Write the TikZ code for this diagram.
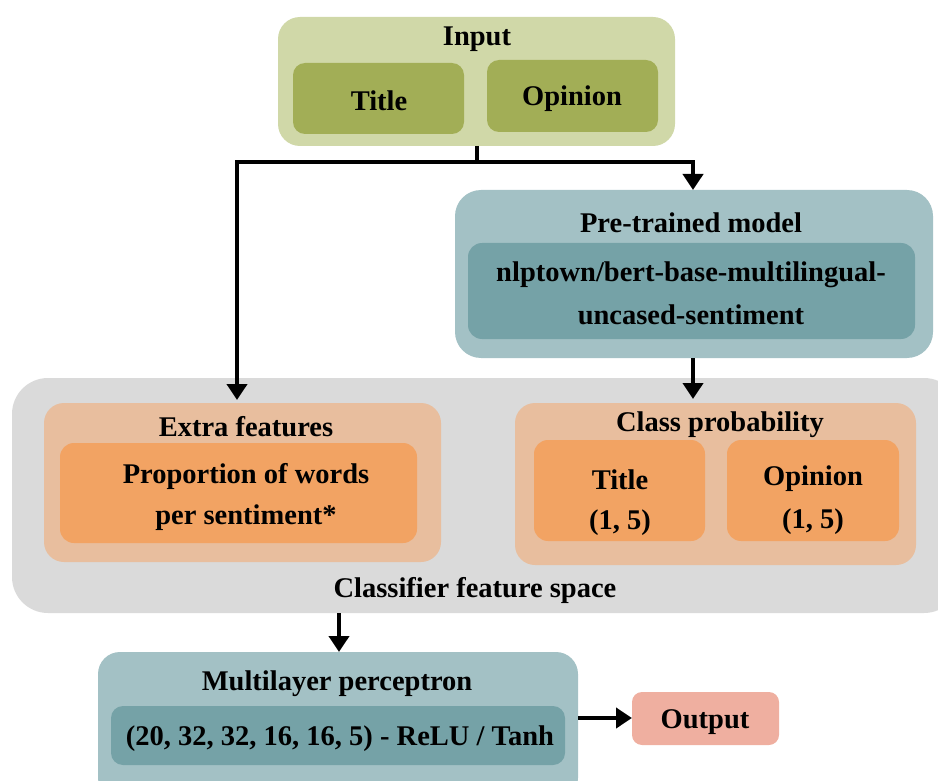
\documentclass[tikz,border=0pt]{standalone}
\usepackage{fontspec}
\setmainfont{Liberation Serif}
\usetikzlibrary{arrows.meta}
\definecolor{inoute}{RGB}{208,216,168}
\definecolor{ininn}{RGB}{162,174,86}
\definecolor{tealout}{RGB}{163,193,197}
\definecolor{tealin}{RGB}{117,162,167}
\definecolor{grayspace}{RGB}{218,218,218}
\definecolor{peachout}{RGB}{232,190,158}
\definecolor{peachin}{RGB}{242,163,99}
\definecolor{outcol}{RGB}{239,175,160}
\tikzset{
  box/.style={rounded corners=#1, draw=none},
  lbl/.style={font=\fontsize{28.5}{34}\selectfont\bfseries, inner sep=0pt, align=center},
  conn/.style={line width=4.5pt, -{Triangle[width=20pt,length=16pt]}},
  plain/.style={line width=4.5pt}
}
\begin{document}
\begin{tikzpicture}[x=1pt,y=-1pt]
\useasboundingbox (0,0) rectangle (938,781);
% Input
\fill[inoute, box=22pt] (278,17) rectangle (675,146);
\node[lbl] (inlbl) at (477,39) {Input};
\fill[ininn, box=12pt] (293,63) rectangle (464,134);
\node[lbl] (intitle) at (379,101) {Title};
\fill[ininn, box=12pt] (487,60) rectangle (658,132);
\node[lbl] (inop) at (572,99) {Opinion};
\coordinate (inbot) at (477,146);
% Pretrained
\fill[tealout, box=26pt] (455,190) rectangle (933,358);
\node[lbl] (ptlbl) at (691,223) {Pre-trained model};
\fill[tealin, box=14pt] (468,243) rectangle (915,339);
\node[lbl] (ptl1) at (691,275) {nlptown/bert-base-multilingual-};
\node[lbl] (ptl2) at (691,315) {uncased-sentiment};
% Classifier space
\fill[grayspace, box=36pt] (12,378) rectangle (960,613);
\node[lbl] (cfs) at (475,590) {Classifier feature space};
% Extra features
\fill[peachout, box=20pt] (44,403) rectangle (441,562);
\node[lbl] (eflbl) at (246,427) {Extra features};
\fill[peachin, box=14pt] (60,443) rectangle (417,543);
\node[lbl] (ef1) at (246,476) {Proportion of words};
\node[lbl] (ef2) at (246,518) {per sentiment*};
% Class probability
\fill[peachout, box=20pt] (515,403) rectangle (916,565);
\node[lbl] (cplbl) at (720,425) {Class probability};
\fill[peachin, box=14pt] (534,440) rectangle (705,541);
\node[lbl] (cpt1) at (620,480) {Title};
\node[lbl] (cpt2) at (620,523) {(1, 5)};
\fill[peachin, box=14pt] (727,440) rectangle (899,541);
\node[lbl] (cpo1) at (813,479) {Opinion};
\node[lbl] (cpo2) at (813,522) {(1, 5)};
% MLP
\fill[tealout, box=22pt] (98,652) rectangle (578,800);
\node[lbl] (mlplbl) at (337,684) {Multilayer perceptron};
\fill[tealin, box=12pt] (111,706) rectangle (565,765);
\node[lbl] (mlpin) at (340,739) {(20, 32, 32, 16, 16, 5) - ReLU / Tanh};
% Output
\fill[outcol, box=10pt] (632,692) rectangle (779,745);
\node[lbl] (out) at (705,722) {Output};
% coordinates
\coordinate (split) at (477,162);
\coordinate (lcorner) at (237,162);
\coordinate (rcorner) at (693,162);
\coordinate (eftop) at (237,400);
\coordinate (pttop) at (693,190);
\coordinate (ptbot) at (693,358);
\coordinate (cptop) at (693,399);
\coordinate (cfsbot) at (339,613);
\coordinate (mlptop) at (339,652);
\coordinate (mlpright) at (578,718);
\coordinate (outleft) at (632,718);
% connectors
\draw[plain] (inbot) -- (split);
\draw[line width=4.5pt, line cap=rect] (lcorner) -- (rcorner);
\draw[conn] (lcorner) -- (eftop);
\draw[conn] (rcorner) -- (pttop);
\draw[conn] (ptbot) -- (cptop);
\draw[conn] (cfsbot) -- (mlptop);
\draw[conn] (mlpright) -- (outleft);
\end{tikzpicture}
\end{document}
